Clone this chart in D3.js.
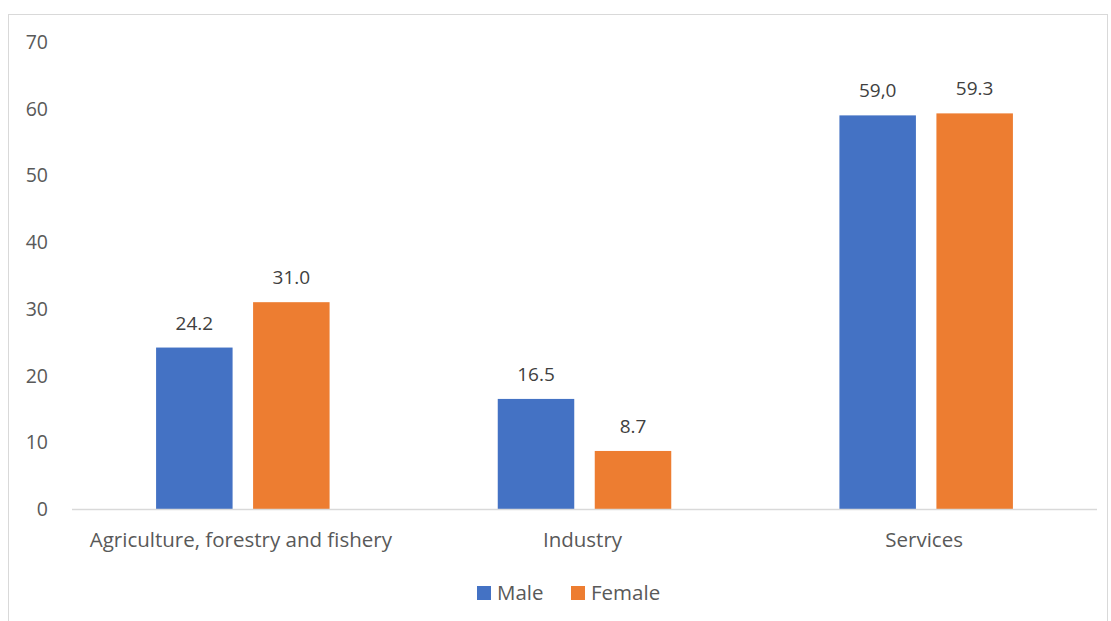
<!DOCTYPE html>
<html><head><meta charset="utf-8">
<script src="https://cdn.jsdelivr.net/npm/d3@7"></script>
<style>body{margin:0;background:#fff;} svg{display:block;font-family:"Open Sans",sans-serif;}</style>
</head><body>
<svg id="c" width="1111" height="621"></svg>
<script>
const categories = ["Agriculture, forestry and fishery", "Industry", "Services"];
const seriesNames = ["Male", "Female"];
const maleValues = [24.2, 16.5, 59.0];
const femaleValues = [31.0, 8.7, 59.3];
const maleLabels = ["24.2", "16.5", "59,0"];
const femaleLabels = ["31.0", "8.7", "59.3"];
const yTicks = [0, 10, 20, 30, 40, 50, 60, 70];
const colors = ["#4472C4", "#ED7D31"];

(function () {
const svg = d3.select("#c");
svg.append("rect").attr("x", 8.5).attr("y", 14.5).attr("width", 1099).attr("height", 640)
  .attr("fill", "none").attr("stroke", "#D9D9D9");

const pLeft = 72, pRight = 1097, pTop = 42, pBottom = 509;
const x = d3.scaleBand().domain(categories).range([pLeft, pRight]).paddingInner(0).paddingOuter(0);
const y = d3.scaleLinear().domain([0, 70]).range([pBottom, pTop]);
const series = [maleValues, femaleValues];
const labels = [maleLabels, femaleLabels];
const barW = 76.5, gap = 20.5;

svg.append("g").selectAll("text").data(yTicks).join("text")
  .attr("x", 48).attr("y", d => y(d)).attr("dy", "0.36em")
  .attr("text-anchor", "end").attr("fill", "#595959").attr("font-size", 19.5)
  .text(d => d);

series.forEach((vals, si) => {
  const off = si === 0 ? -(gap / 2 + barW) : gap / 2;
  svg.append("g").selectAll("rect").data(vals).join("rect")
    .attr("x", (d, i) => x(categories[i]) + x.bandwidth() / 2 + off)
    .attr("y", d => y(d)).attr("width", barW).attr("height", d => y(0) - y(d))
    .attr("fill", colors[si]);
  svg.append("g").selectAll("text").data(vals).join("text")
    .attr("x", (d, i) => x(categories[i]) + x.bandwidth() / 2 + off + barW / 2)
    .attr("y", d => y(d) - 18).attr("text-anchor", "middle")
    .attr("fill", "#404040").attr("font-size", 19)
    .text((d, i) => labels[si][i]);
});

svg.append("line").attr("x1", pLeft).attr("x2", pRight).attr("y1", pBottom + 0.5).attr("y2", pBottom + 0.5)
  .attr("stroke", "#D9D9D9").attr("stroke-width", 1.5);

svg.append("g").selectAll("text").data(categories).join("text")
  .attr("x", d => x(d) + x.bandwidth() / 2 - 2).attr("y", 547)
  .attr("text-anchor", "middle").attr("fill", "#595959").attr("font-size", 20.5)
  .text(d => d);

const legendX = [477, 571];
seriesNames.forEach((n, i) => {
  svg.append("rect").attr("x", legendX[i]).attr("y", 586).attr("width", 14).attr("height", 14).attr("fill", colors[i]);
  svg.append("text").attr("x", legendX[i] + 20).attr("y", 600).attr("fill", "#595959")
    .attr("font-size", 20.5).text(n);
});
})();
</script>
</body></html>
